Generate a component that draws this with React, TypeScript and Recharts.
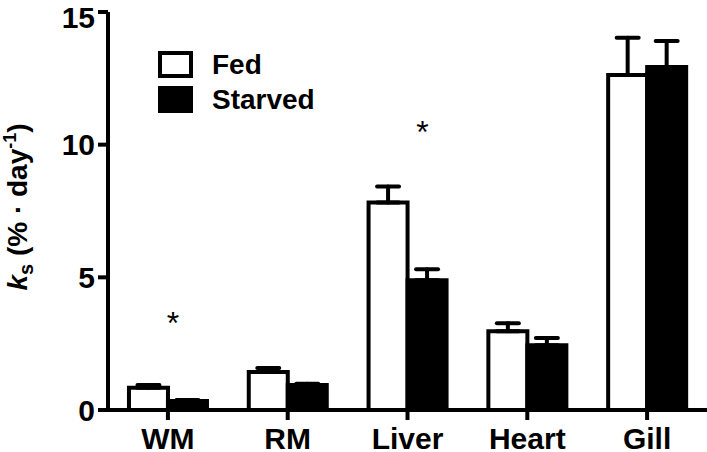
import React from "react";
import { ComposedChart, Bar, XAxis, YAxis, ErrorBar, ReferenceDot, Legend } from "recharts";

const categories = ["WM", "RM", "Liver", "Heart", "Gill"];
const fedValues = [0.84, 1.43, 7.82, 2.97, 12.63];
const fedErrors = [0.1, 0.15, 0.6, 0.3, 1.4];
const starvedValues = [0.34, 0.94, 4.89, 2.44, 12.93];
const starvedErrors = [0.04, 0.05, 0.41, 0.27, 0.98];
const yTicks = [0, 5, 10, 15];
const sigCategories = ["WM", "Liver"];
const sigHeights = [3.5, 10.7];
const sigOffsets = [5, 15];

const FONT = "'Liberation Sans', Arial, Helvetica, sans-serif";

const data = categories.map((c, i) => ({
  category: c,
  fed: fedValues[i],
  fedErr: [0, fedErrors[i]],
  starved: starvedValues[i],
  starvedErr: [0, starvedErrors[i]],
}));

const YLabel = () => (
  <text
    x={27}
    y={207}
    transform="rotate(-90, 27, 207)"
    textAnchor="middle"
    fontSize={28}
    fontWeight="bold"
    fontFamily={FONT}
    fill="#000"
  >
    <tspan fontStyle="italic">k</tspan>
    <tspan fontSize={20} dy={6}>s</tspan>
    <tspan dy={-6}> (% · day</tspan>
    <tspan fontSize={18} dy={-11}>-1</tspan>
    <tspan dy={11}>)</tspan>
  </text>
);

const LegendContent = () => (
  <div style={{ fontFamily: FONT, fontWeight: "bold", fontSize: 28, color: "#000" }}>
    {[
      { name: "Fed", fill: "#fff" },
      { name: "Starved", fill: "#000" },
    ].map((it) => (
      <div key={it.name} style={{ display: "flex", alignItems: "center", height: 35, lineHeight: "35px" }}>
        <div
          style={{
            width: 35,
            height: 27,
            boxSizing: "border-box",
            border: "4px solid #000",
            background: it.fill,
          }}
        />
        <span style={{ marginLeft: 19 }}>{it.name}</span>
      </div>
    ))}
  </div>
);

export default function App() {
  const tickStyle = { fontSize: 30, fontWeight: "bold", fill: "#000", fontFamily: FONT };
  return (
    <div style={{ position: "absolute", left: 0, top: 0, background: "#fff" }}>
      <ComposedChart
        width={707}
        height={452}
        data={data}
        margin={{ top: 12, right: 0, bottom: 0, left: 0 }}
        barCategoryGap="17.5%"
        barGap={0}
      >
        <XAxis
          dataKey="category"
          height={42}
          tickSize={10}
          tickMargin={8}
          tick={tickStyle}
          axisLine={{ stroke: "#000", strokeWidth: 4 }}
          tickLine={{ stroke: "#000", strokeWidth: 4 }}
          interval={0}
        />
        <YAxis
          width={108}
          domain={[0, 15]}
          ticks={yTicks}
          tickSize={10}
          tickMargin={3}
          tick={tickStyle}
          axisLine={{ stroke: "#000", strokeWidth: 4 }}
          tickLine={{ stroke: "#000", strokeWidth: 4 }}
          label={<YLabel />}
        />
        <Legend
          verticalAlign="middle"
          align="center"
          layout="vertical"
          wrapperStyle={{ top: 47, left: 158, width: "auto", height: "auto" }}
          content={() => <LegendContent />}
        />
        <Bar dataKey="fed" fill="#fff" stroke="#000" strokeWidth={4} isAnimationActive={false}>
          <ErrorBar dataKey="fedErr" direction="y" width={11} strokeWidth={4} stroke="#000" strokeLinecap="round" />
        </Bar>
        <Bar dataKey="starved" fill="#000" stroke="#000" strokeWidth={4} isAnimationActive={false}>
          <ErrorBar dataKey="starvedErr" direction="y" width={11} strokeWidth={4} stroke="#000" strokeLinecap="round" />
        </Bar>
        {sigCategories.map((c, i) => (
          <ReferenceDot
            key={c}
            x={c}
            y={sigHeights[i]}
            r={0}
            isFront
            shape={(p: any) => (
              <text
                x={p.cx + sigOffsets[i]}
                y={p.cy + 17}
                textAnchor="middle"
                fontSize={32}
                fontFamily={FONT}
                fill="#000"
              >
                *
              </text>
            )}
          />
        ))}
      </ComposedChart>
    </div>
  );
}
